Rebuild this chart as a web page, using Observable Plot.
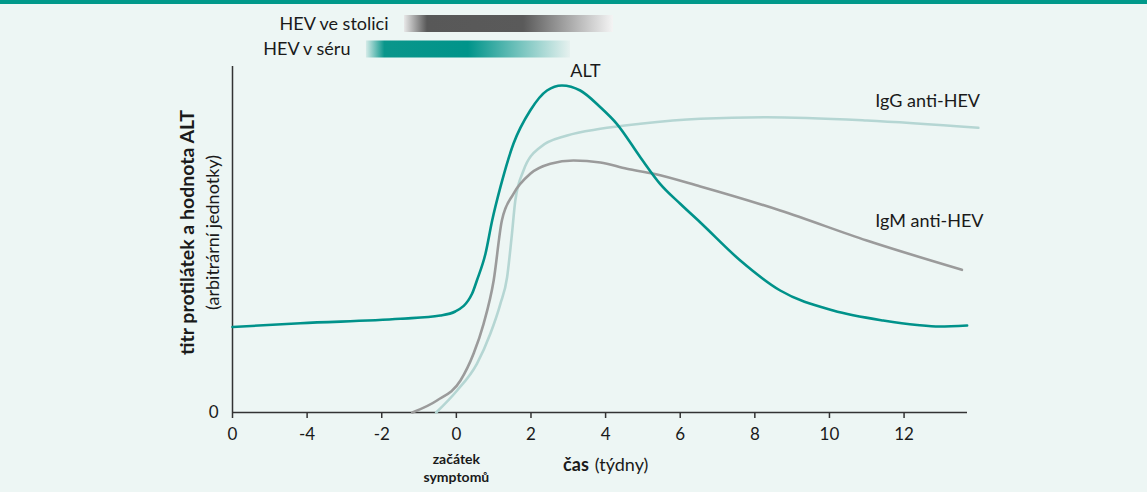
<!DOCTYPE html>
<html>
<head>
<meta charset="utf-8">
<script src="https://cdn.jsdelivr.net/npm/d3@7"></script>
<script src="https://cdn.jsdelivr.net/npm/@observablehq/plot@0.6"></script>
<style>
  html, body { margin: 0; padding: 0; background: #edf6f4; }
  #band { position: absolute; top: 0; left: 0; width: 1147px; height: 4px; background: #00998a; z-index: 2; }
  #chart svg { display: block; }
</style>
</head>
<body>
<div id="band"></div>
<div id="chart"></div>
<script>
// ---- data ----
const xTicks = [-6, -4, -2, 0, 2, 4, 6, 8, 10, 12];
const xTickLabels = ["0", "-4", "-2", "0", "2", "4", "6", "8", "10", "12"];

const altWeeks  = [-6.00, -4.18, -1.50, -0.43, -0.03, 0.42, 0.55, 0.78, 0.96, 1.18, 1.53, 1.98, 2.43, 2.83, 3.32, 3.86, 4.30, 4.93, 5.46, 6.00, 6.54, 7.61, 8.68, 10.10, 11.44, 12.35, 12.95, 13.69];
const altValues = [85.5, 89.3, 93.7, 97, 101, 118.7, 132, 158.7, 192, 225.3, 268.7, 302, 322, 327, 322, 305.3, 288.7, 255.3, 228.7, 208.7, 190, 152, 122, 102, 92, 87.5, 86, 87];

const igmWeeks  = [-1.18, -0.52, 0.11, 0.46, 0.73, 1.00, 1.22, 1.53, 1.98, 2.52, 3.14, 3.86, 4.57, 5.29, 6.54, 8.68, 11.00, 13.55];
const igmValues = [0, 12, 32, 58.7, 88.7, 132, 192, 218.7, 238.7, 248.7, 252, 250, 243.7, 238.7, 226, 202, 172, 142.7];

const iggWeeks  = [-0.54, 0.02, 0.55, 0.91, 1.18, 1.36, 1.49, 1.58, 1.80, 2.25, 2.97, 3.86, 4.93, 6.54, 8.32, 11.00, 13.99];
const iggValues = [0, 22, 48.7, 78.7, 108.7, 135.3, 178.7, 212, 242, 265.3, 277, 283.7, 288.7, 293.7, 295.3, 292, 284.7];

const hevNames  = ["HEV ve stolici", "HEV v séru"];
const hevStart  = [-1.39, -2.41];
const hevEnd    = [4.21, 3.06];

const seriesNames = ["ALT", "IgG anti-HEV", "IgM anti-HEV"];
const labelWeeks  = [3.46, 11.23, 11.23];
const labelValues = [341, 311, 191];

// ---- build tables ----
const toRows = (w, v) => w.map((x, i) => ({ x, y: v[i] }));
const alt = toRows(altWeeks, altValues);
const igm = toRows(igmWeeks, igmValues);
const igg = toRows(iggWeeks, iggValues);

// layout (y positions of the presence bars above the frame, in axis units)
const barCenters = [388.5, 363];
const barHalf = 8.5;
const gradIds = ["gradStool", "gradSerum"];
const hev = hevNames.map((name, i) => ({
  name, start: hevStart[i], end: hevEnd[i],
  yc: barCenters[i], y1: barCenters[i] - barHalf, y2: barCenters[i] + barHalf, grad: gradIds[i]
}));
const labels = seriesNames.map((t, i) => ({ text: t, x: labelWeeks[i], y: labelValues[i] }));
const tickMap = new Map(xTicks.map((t, i) => [t, xTickLabels[i]]));

const axisColor = "#333";
const ink = "#1a1a1a";
const font = "Lato, 'Open Sans', sans-serif";

const svg = Plot.plot({
  width: 1147,
  height: 492,
  marginLeft: 232,
  marginRight: 180,
  marginTop: 66,
  marginBottom: 80,
  x: { domain: [-6, 13.7] },
  y: { domain: [0, 346] },
  style: { background: "transparent", fontFamily: font, fontSize: "18px", color: ink, overflow: "visible" },
  marks: [
    Plot.axisX({ ticks: xTicks, tickFormat: d => tickMap.get(d), tickSize: 6, tickPadding: 9, stroke: axisColor, strokeWidth: 1.5, fill: ink, fontSize: 17, label: null }),
    Plot.axisY({ ticks: [0], tickSize: 0, tickPadding: 14, fill: ink, fontSize: 17, label: null }),
    Plot.ruleX([-6], { stroke: axisColor, strokeWidth: 1.5 }),
    Plot.ruleY([0], { stroke: axisColor, strokeWidth: 1.5 }),
    Plot.line(igg, { x: "x", y: "y", stroke: "#b5d6d3", strokeWidth: 2.6, curve: "monotone-x" }),
    Plot.line(igm, { x: "x", y: "y", stroke: "#9b9b9b", strokeWidth: 2.6, curve: "monotone-x" }),
    Plot.line(alt, { x: "x", y: "y", stroke: "#00928a", strokeWidth: 2.6, curve: "monotone-x" }),
    ...hev.map(b => Plot.rect([b], { x1: "start", x2: "end", y1: "y1", y2: "y2", fill: `url(#${b.grad})` })),
    Plot.text(hev, { x: "start", y: "yc", text: "name", textAnchor: "end", dx: -16, fontSize: 18, fill: ink }),
    Plot.text(labels.slice(0, 1), { x: "x", y: "y", text: "text", textAnchor: "middle", fontSize: 18, fill: ink }),
    Plot.text(labels.slice(1), { x: "x", y: "y", text: "text", textAnchor: "start", fontSize: 18, fill: ink }),
    Plot.text(["titr protilátek a hodnota ALT"], { frameAnchor: "left", textAnchor: "middle", rotate: -90, dx: -45, dy: -7, fontWeight: "bold", fontSize: 19.5, fill: ink }),
    Plot.text(["(arbitrární jednotky)"], { frameAnchor: "left", textAnchor: "middle", rotate: -90, dx: -19, dy: -7, fontSize: 18, fill: ink }),
    Plot.text(["začátek\nsymptomů"], { x: [0], frameAnchor: "bottom", dy: 55, lineAnchor: "middle", lineHeight: 1.3, fontWeight: "bold", fontSize: 14, fill: ink }),
    Plot.text(["čas"], { x: [3.55], frameAnchor: "bottom", dy: 58, textAnchor: "end", fontWeight: "bold", fontSize: 18, fill: ink }),
    Plot.text(["(týdny)"], { x: [3.55], frameAnchor: "bottom", dy: 58, dx: 6, textAnchor: "start", fontSize: 18, fill: ink })
  ]
});

// gradients for the presence bars
const defs = d3.select(svg).insert("defs", ":first-child");
function grad(id, stops) {
  const g = defs.append("linearGradient").attr("id", id).attr("x1", 0).attr("x2", 1).attr("y1", 0).attr("y2", 0);
  stops.forEach(([o, c]) => g.append("stop").attr("offset", o).attr("stop-color", c));
}
grad("gradStool", [[0, "#e8e8e8"], [0.11, "#585858"], [0.57, "#5a5a5a"], [1, "#f4f4f4"]]);
grad("gradSerum", [[0, "#d5ebe8"], [0.09, "#0a968b"], [0.5, "#00948a"], [1, "#e6f1ef"]]);

document.getElementById("chart").appendChild(svg);
</script>
</body>
</html>
